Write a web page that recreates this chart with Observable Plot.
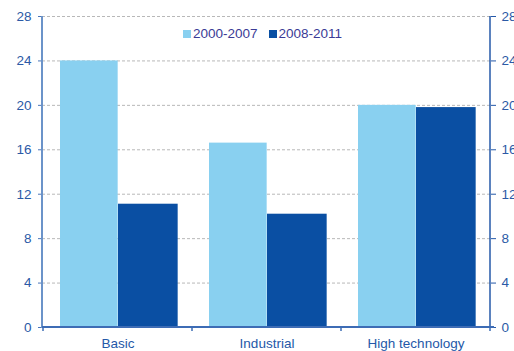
<!DOCTYPE html>
<html>
<head>
<meta charset="utf-8">
<script src="https://cdn.jsdelivr.net/npm/d3@7"></script>
<script src="https://cdn.jsdelivr.net/npm/@observablehq/plot@0.6"></script>
<style>
  html, body { margin: 0; padding: 0; background: #fff; }
  #wrap { position: relative; width: 514px; height: 351px; overflow: hidden; font-family: "Liberation Sans", Arial, sans-serif; }
  #legend { position: absolute; top: 26px; left: 183px; display: flex; align-items: center; font-size: 13.5px; color: #3b3b96; }
  #legend .sw { display: inline-block; width: 8px; height: 8px; margin-right: 2px; }
  #legend .item { display: flex; align-items: center; margin-right: 11px; }
</style>
</head>
<body>
<div id="wrap"><div id="legend"></div></div>
<script>
const categories = ["Basic", "Industrial", "High technology"];
const series = ["2000-2007", "2008-2011"];
const values2000_2007 = [24.0, 16.6, 20.0];
const values2008_2011 = [11.1, 10.2, 19.8];
const yTicks = [0, 4, 8, 12, 16, 20, 24, 28];
const colors = ["#89d0f0", "#0a4fa3"];

const rows = categories.flatMap((c, i) => [
  {category: c, series: series[0], value: values2000_2007[i]},
  {category: c, series: series[1], value: values2008_2011[i]}
]);

const W = 514, H = 351, ML = 42, MR = 24, MT = 16, MB = 24;
const bw = (W - ML - MR) / categories.length;

function frameLines(index, scales, values, dims) {
  const x = scales.x, y = scales.y;
  const b = x.bandwidth ? x.bandwidth() : bw;
  const g = d3.create("svg:g");
  const x0 = dims.marginLeft, x1 = dims.width - dims.marginRight;
  const yb = y(0), yt = y(28);
  g.append("line").attr("x1", x0).attr("x2", x0).attr("y1", yt).attr("y2", yb + 1)
    .attr("stroke", "#6b93c9").attr("stroke-width", 2);
  g.append("line").attr("x1", x1).attr("x2", x1).attr("y1", yt).attr("y2", yb + 1)
    .attr("stroke", "#2458a8").attr("stroke-width", 1.5);
  g.append("line").attr("x1", x0).attr("x2", x1 + 4).attr("y1", yb).attr("y2", yb)
    .attr("stroke", "#3d6cb5").attr("stroke-width", 2);
  const bounds = categories.map(c => x(c)).concat([x(categories[categories.length - 1]) + b]);
  for (const bx of bounds) {
    g.append("line").attr("x1", bx).attr("x2", bx).attr("y1", yb).attr("y2", yb + 4)
      .attr("stroke", "#3d6cb5").attr("stroke-width", 1.5);
  }
  return g.node();
}

const chart = Plot.plot({
  width: W, height: H,
  marginLeft: ML, marginRight: MR, marginTop: MT, marginBottom: MB,
  style: {fontFamily: "Liberation Sans, Arial, sans-serif", fontSize: "13.5px", color: "#2b5aa6", background: "transparent"},
  x: {domain: categories, padding: 0, label: null},
  y: {domain: [0, 28], label: null},
  marks: [
    Plot.gridY(yTicks.filter(d => d > 0), {stroke: "#b8b8b8", strokeOpacity: 1, strokeDasharray: "3,2"}),
    Plot.barY(rows.filter(d => d.series === series[0]), {x: "category", y: "value", fill: colors[0], insetLeft: 17, insetRight: bw - 75}),
    Plot.barY(rows.filter(d => d.series === series[1]), {x: "category", y: "value", fill: colors[1], insetLeft: 75, insetRight: bw - 135}),
    Plot.axisY(yTicks, {anchor: "left", tickSize: 4, tickPadding: 7, label: null, stroke: "#4a76ba"}),
    Plot.axisY(yTicks, {anchor: "right", tickSize: 5, tickPadding: 6, label: null, stroke: "#2458a8"}),
    Plot.axisX({anchor: "bottom", tickSize: 0, tickPadding: 11, label: null, fill: "#2458a8"}),
    frameLines
  ]
});
document.getElementById("wrap").appendChild(chart);

const legend = document.getElementById("legend");
series.forEach((s, i) => {
  const item = document.createElement("span");
  item.className = "item";
  const sw = document.createElement("span");
  sw.className = "sw";
  sw.style.background = colors[i];
  item.appendChild(sw);
  item.appendChild(document.createTextNode(s));
  legend.appendChild(item);
});
</script>
</body>
</html>
